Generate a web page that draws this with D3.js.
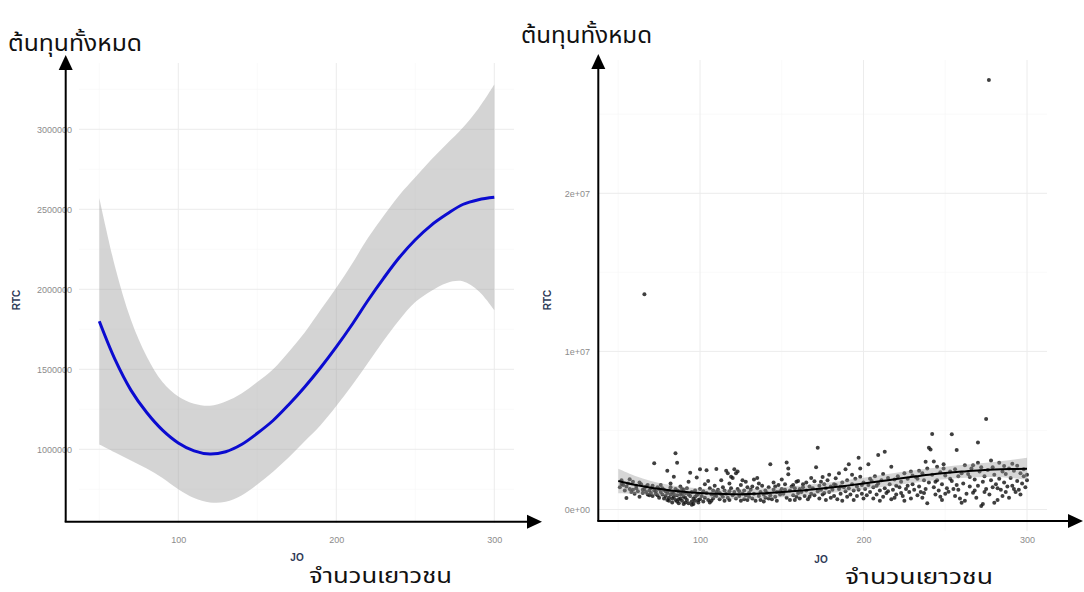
<!DOCTYPE html>
<html>
<head>
<meta charset="utf-8">
<script src="https://cdn.jsdelivr.net/npm/d3@7"></script>
<style>
  html, body { margin: 0; padding: 0; background: #fff; }
  svg { display: block; }
</style>
</head>
<body>
<svg id="chart" width="1084" height="592"></svg>
<script>
// ---------------- DATA ----------------
// Smoothed fit (geom_smooth) of RTC against JO (RTC in units)
const smoothJO    = [50, 60, 70, 80, 90, 100, 110, 120, 130, 140, 150, 160, 170, 180, 190, 200, 210, 220, 230, 240, 250, 260, 270, 280, 290, 300];
const smoothFit   = [1800000, 1560000, 1370000, 1230000, 1120000, 1040000, 990000, 970000, 985000, 1030000, 1100000, 1180000, 1280000, 1390000, 1510000, 1640000, 1780000, 1930000, 2070000, 2200000, 2310000, 2400000, 2470000, 2530000, 2560000, 2575000];
const smoothLower = [1030000, 980000, 930000, 880000, 820000, 750000, 695000, 668000, 672000, 712000, 780000, 860000, 950000, 1050000, 1150000, 1270000, 1400000, 1540000, 1680000, 1810000, 1920000, 1990000, 2040000, 2050000, 1990000, 1870000];
const smoothUpper = [2570000, 2140000, 1810000, 1580000, 1420000, 1330000, 1285000, 1272000, 1298000, 1348000, 1420000, 1500000, 1610000, 1730000, 1870000, 2010000, 2160000, 2320000, 2460000, 2590000, 2700000, 2810000, 2910000, 3010000, 3130000, 3280000];

const pointsJO = [
51,52,53,54,55,56,57,58,59,60,52,55,57,59,
61,62,63,64,65,66,66,67,68,69,69,61,63,65,67,68,70,70,
71,72,72,73,74,75,75,76,76,77,78,78,79,80,80,80,71,73,74,77,79,
81,81,82,82,83,83,84,84,85,85,85,86,86,86,87,87,88,88,89,89,90,90,90,81,82,84,87,88,89,83,86,
91,91,92,92,93,93,94,94,95,95,96,96,97,97,98,98,99,99,100,100,100,91,93,95,97,99,
101,102,102,103,103,104,104,105,106,106,107,108,108,109,110,110,110,105,107,109,
111,112,112,113,114,114,115,116,116,117,117,118,118,119,119,120,120,113,115,118,
121,121,122,122,123,123,124,125,125,126,127,127,128,128,129,129,130,130,124,126,
131,132,133,133,134,135,135,136,137,137,138,139,140,140,132,136,139,
141,142,143,143,144,145,145,146,147,147,148,149,150,150,142,146,149,
151,152,153,153,154,154,155,155,156,157,158,158,159,160,160,152,157,159,
161,161,162,163,164,165,165,166,167,168,168,169,170,170,163,167,
171,172,172,173,173,174,175,175,176,177,177,178,179,180,180,174,176,179,
181,182,183,183,184,185,185,186,187,187,188,189,189,190,190,182,186,
191,191,192,193,194,194,195,196,196,197,197,198,198,199,200,200,193,199,
201,202,203,203,204,205,206,206,207,208,209,209,210,210,204,208,
211,212,213,213,214,215,216,217,217,218,219,220,220,212,215,219,
221,222,223,224,225,225,226,227,228,229,229,230,230,223,227,
231,232,233,234,234,235,236,236,237,238,238,239,239,240,240,233,237,
241,242,242,243,243,244,245,245,246,247,247,248,249,249,250,250,244,248,
251,252,253,254,254,255,256,256,257,257,258,259,260,260,253,258,
261,262,263,264,265,266,267,267,268,269,270,270,270,262,265,268,
271,272,272,273,273,274,275,275,276.7,276,277,278,279,279,280,280,274,278,
281,282,283,283,284,285,285,286,287,287,288,289,289,290,282,286,
291,292,292,293,294,294,295,296,296,297,298,298,299,300,300,291
];
const pointsRTC = [
1.40,1.85,1.55,1.20,0.72,1.65,1.30,1.10,1.75,1.00,1.62,1.45,1.92,1.25,
1.35,1.15,0.80,1.60,1.05,13.61,1.30,1.45,0.95,0.90,1.20,1.50,1.70,1.25,1.10,1.55,1.05,1.35,
0.85,2.92,1.20,1.00,1.40,1.30,0.75,1.10,1.55,0.95,1.25,0.70,1.15,2.45,1.05,0.60,1.50,1.15,0.90,1.35,0.85,
0.55,1.20,0.95,1.40,0.45,1.10,2.07,0.80,3.55,0.60,1.30,2.96,0.50,0.90,1.15,0.40,0.70,1.45,0.55,1.00,0.35,0.80,1.25,0.75,1.65,1.00,0.65,0.95,1.30,0.70,1.20,
0.45,1.05,0.60,1.35,1.76,0.40,0.85,2.32,0.50,1.10,0.70,0.35,1.20,0.55,2.03,0.90,0.45,1.00,2.54,0.65,1.30,0.75,0.95,0.30,0.80,0.60,
0.85,1.15,0.50,1.60,0.75,2.48,1.05,0.60,1.35,0.45,0.95,1.20,0.70,1.50,2.56,0.85,1.10,1.80,0.55,0.90,
1.25,0.65,1.05,1.85,0.80,1.40,0.55,2.45,1.00,2.30,0.75,1.15,0.60,2.07,1.35,2.00,0.90,0.95,1.20,1.65,
2.54,1.10,2.30,0.70,2.40,1.30,0.85,1.55,0.55,1.00,1.20,0.65,1.75,0.90,0.60,1.40,1.05,0.80,1.15,1.85,
1.25,0.70,1.90,1.00,0.55,2.00,1.35,0.85,1.10,0.60,1.50,0.95,1.20,0.75,1.45,1.65,0.50,
1.05,1.40,2.86,0.90,0.65,1.25,1.70,0.80,1.10,0.55,1.55,0.95,1.90,1.30,0.70,1.45,1.15,
1.00,1.60,2.98,0.75,2.60,2.23,1.20,0.60,1.45,0.90,0.60,1.35,1.75,1.80,1.05,1.25,1.55,0.80,
0.70,1.30,1.10,1.60,0.85,1.70,1.20,0.65,1.45,1.00,2.00,1.35,1.78,0.90,1.40,0.80,
2.67,3.91,1.15,1.50,0.70,1.25,2.05,0.95,1.60,0.60,1.35,1.85,1.10,1.45,0.75,1.75,1.05,2.20,
1.25,0.85,1.97,1.55,0.65,1.30,2.30,1.00,1.70,0.55,1.40,2.54,1.15,0.80,1.85,1.60,1.45,
2.86,1.35,0.95,1.60,1.20,0.60,1.95,1.45,0.85,3.28,1.25,2.60,2.07,1.00,1.70,0.70,2.20,1.55,
1.30,0.90,2.86,1.55,1.10,1.80,0.70,1.40,2.10,0.95,3.45,1.65,1.20,0.55,1.95,1.50,
1.85,0.80,3.66,1.35,1.05,2.00,1.60,2.70,0.65,1.25,1.90,0.95,1.50,2.25,1.15,0.75,
2.10,1.40,1.75,0.85,2.30,0.56,1.30,1.95,1.10,2.40,0.70,1.60,2.15,1.05,1.50,
1.25,2.05,0.90,2.45,1.45,1.10,2.30,0.75,1.85,3.02,1.30,0.39,2.60,3.90,1.70,1.95,1.05,
3.80,4.77,2.20,3.03,1.40,0.95,2.70,1.85,1.20,0.80,2.35,1.60,2.87,2.60,1.00,2.15,1.75,0.60,
1.35,1.13,2.40,4.76,1.80,1.30,2.55,0.85,3.76,1.55,2.10,0.70,0.43,2.30,1.95,1.25,
1.65,2.80,1.00,2.25,1.45,2.60,2.80,1.06,1.90,0.75,4.23,2.95,1.50,0.55,2.05,1.20,
2.40,2.67,0.22,0.35,1.75,2.10,5.72,1.30,27.17,2.50,0.95,1.85,2.67,1.40,0.43,2.20,1.10,3.10,
1.60,0.60,2.95,1.95,1.25,2.40,0.85,1.70,2.25,1.10,1.45,2.60,0.75,2.00,1.35,2.75,
1.50,1.30,2.45,1.10,2.77,1.80,1.25,2.30,0.95,1.65,2.10,2.55,1.40,2.20,1.85,2.90
];

// Tick values and labels
const xTicks = [100, 200, 300];
const xMinorTicks = [50, 150, 250];
const leftYTicks = [1000000, 1500000, 2000000, 2500000, 3000000];
const leftYMinorTicks = [750000, 1250000, 1750000, 2250000, 2750000, 3250000];
const rightYTicks = [0, 10000000, 20000000];
const rightYTickLabels = ["0e+00", "1e+07", "2e+07"];
const rightYMinorTicks = [5000000, 15000000, 25000000];

// Text
const yTitleThai = "ต้นทุนทั้งหมด";
const xTitleThai = "จำนวนเยาวชน";
const xVarName = "JO";
const yVarName = "RTC";

// ---------------- DRAW ----------------
const svg = d3.select("#chart");
const thaiFont = "'Noto Sans Thai', 'Noto Sans Thai UI', Tahoma, 'Loma', 'Garuda', 'Noto Sans', sans-serif";
const tickFont = "'Liberation Sans', Arial, sans-serif";

function panel(cfg) {
  const g = svg.append("g");
  const x = cfg.x, y = cfg.y;
  const [px0, px1] = cfg.panelX;
  const [py0, py1] = cfg.panelY;

  // minor grid
  g.selectAll(".vminor").data(xMinorTicks).join("line")
    .attr("x1", d => x(d)).attr("x2", d => x(d)).attr("y1", py0).attr("y2", py1)
    .attr("stroke", "#f6f6f6").attr("stroke-width", 0.6);
  g.selectAll(".hminor").data(cfg.yMinor).join("line")
    .attr("x1", px0).attr("x2", px1).attr("y1", d => y(d)).attr("y2", d => y(d))
    .attr("stroke", "#f6f6f6").attr("stroke-width", 0.6);
  // major grid
  g.selectAll(".vmajor").data(xTicks).join("line")
    .attr("x1", d => x(d)).attr("x2", d => x(d)).attr("y1", py0).attr("y2", py1)
    .attr("stroke", "#ececec").attr("stroke-width", 1);
  g.selectAll(".hmajor").data(cfg.yTicks).join("line")
    .attr("x1", px0).attr("x2", px1).attr("y1", d => y(d)).attr("y2", d => y(d))
    .attr("stroke", "#ececec").attr("stroke-width", 1);

  const rows = smoothJO.map((jo, i) => ({ jo, fit: smoothFit[i], lo: smoothLower[i], hi: smoothUpper[i] }));

  if (cfg.points) {
    const pts = pointsJO.map((jo, i) => ({ jo, rtc: pointsRTC[i] * 1e6 }));
    g.selectAll(".pt").data(pts).join("circle")
      .attr("cx", d => x(d.jo)).attr("cy", d => y(d.rtc)).attr("r", 2)
      .attr("fill", "#151515").attr("fill-opacity", 0.82);
  }

  // ribbon
  g.append("path").datum(rows)
    .attr("d", d3.area().x(d => x(d.jo)).y0(d => y(d.lo)).y1(d => y(d.hi)).curve(d3.curveCatmullRom))
    .attr("fill", cfg.ribbonFill).attr("fill-opacity", cfg.ribbonOpacity);
  // fitted line
  g.append("path").datum(rows)
    .attr("d", d3.line().x(d => x(d.jo)).y(d => y(d.fit)).curve(d3.curveCatmullRom))
    .attr("fill", "none").attr("stroke", cfg.lineColor).attr("stroke-width", cfg.lineWidth)
    .attr("stroke-linecap", "butt");

  // tick labels via d3 axes
  const ax = g.append("g").attr("transform", `translate(0,${cfg.axisY})`)
    .call(d3.axisBottom(x).tickValues(xTicks).tickSize(0).tickPadding(15.5).tickFormat(d3.format("d")));
  const ay = g.append("g").attr("transform", `translate(${px0},0)`)
    .call(d3.axisLeft(y).tickValues(cfg.yTicks).tickSize(0).tickPadding(cfg.yPad).tickFormat(cfg.yFormat));
  [ax, ay].forEach(a => {
    a.select(".domain").remove();
    a.selectAll("text").attr("fill", "#8c8c8c").style("font-family", tickFont).style("font-size", "9px");
  });

  // variable names
  g.append("text").attr("x", cfg.joPos[0]).attr("y", cfg.joPos[1]).attr("text-anchor", "middle")
    .attr("dominant-baseline", "middle")
    .style("font-family", tickFont).style("font-size", "10px").style("font-weight", "bold")
    .attr("fill", "#2f3b57").text(xVarName);
  g.append("text").attr("transform", `translate(${cfg.rtcPos[0]},${cfg.rtcPos[1]}) rotate(-90)`)
    .attr("text-anchor", "middle").attr("dominant-baseline", "middle")
    .style("font-family", tickFont).style("font-size", "10px").style("font-weight", "bold")
    .attr("fill", "#2f3b57").text(yVarName);

  // annotation arrows
  const ox = cfg.origin[0], oy = cfg.origin[1];
  g.append("line").attr("x1", ox).attr("y1", oy).attr("x2", ox).attr("y2", cfg.yTip + 12)
    .attr("stroke", "#000").attr("stroke-width", 2);
  g.append("path").attr("d", `M${ox},${cfg.yTip} L${ox - 7},${cfg.yTip + 15} L${ox + 7},${cfg.yTip + 15} Z`).attr("fill", "#000");
  g.append("line").attr("x1", ox - 1).attr("y1", oy).attr("x2", cfg.xTip - 12).attr("y2", oy)
    .attr("stroke", "#000").attr("stroke-width", 2);
  g.append("path").attr("d", `M${cfg.xTip},${oy} L${cfg.xTip - 15},${oy - 7} L${cfg.xTip - 15},${oy + 7} Z`).attr("fill", "#000");

  // Thai titles
  g.append("text").attr("x", cfg.yTitle[0]).attr("y", cfg.yTitle[1])
    .style("font-family", thaiFont).style("font-size", "23px").attr("fill", "#111")
    .attr("textLength", cfg.yTitle[2]).attr("lengthAdjust", "spacingAndGlyphs")
    .text(yTitleThai);
  g.append("text").attr("x", cfg.xTitle[0]).attr("y", cfg.xTitle[1])
    .style("font-family", thaiFont).style("font-size", "21px").attr("fill", "#111")
    .attr("textLength", cfg.xTitle[2]).attr("lengthAdjust", "spacingAndGlyphs")
    .text(xTitleThai);
}

// Left panel: fitted curve only
panel({
  x: d3.scaleLinear().domain([100, 300]).range([178.3, 494.3]),
  y: d3.scaleLinear().domain([1000000, 3000000]).range([449.3, 129.3]),
  panelX: [79, 514], panelY: [63, 523],
  yTicks: leftYTicks, yMinor: leftYMinorTicks,
  yFormat: d3.format("d"), yPad: 7,
  axisY: 521,
  points: false,
  ribbonFill: "#999999", ribbonOpacity: 0.42,
  lineColor: "#0b0bd0", lineWidth: 3,
  joPos: [297, 558], rtcPos: [17, 300],
  origin: [65.7, 521.7], yTip: 55, xTip: 542,
  yTitle: [8, 51, 134], xTitle: [309, 583, 143]
});

// Right panel: scatter + fitted curve
panel({
  x: d3.scaleLinear().domain([100, 300]).range([700, 1027]),
  y: d3.scaleLinear().domain([0, 20000000]).range([509.5, 193.3]),
  panelX: [598, 1047], panelY: [60, 531],
  yTicks: rightYTicks, yMinor: rightYMinorTicks,
  yFormat: (d) => rightYTickLabels[rightYTicks.indexOf(d)], yPad: 8,
  axisY: 521,
  points: true,
  ribbonFill: "#999999", ribbonOpacity: 0.4,
  lineColor: "#000", lineWidth: 2,
  joPos: [821, 560], rtcPos: [548, 300],
  origin: [598.3, 521], yTip: 54, xTip: 1083,
  yTitle: [521, 43, 131], xTitle: [845, 584, 148]
});
</script>
</body>
</html>
